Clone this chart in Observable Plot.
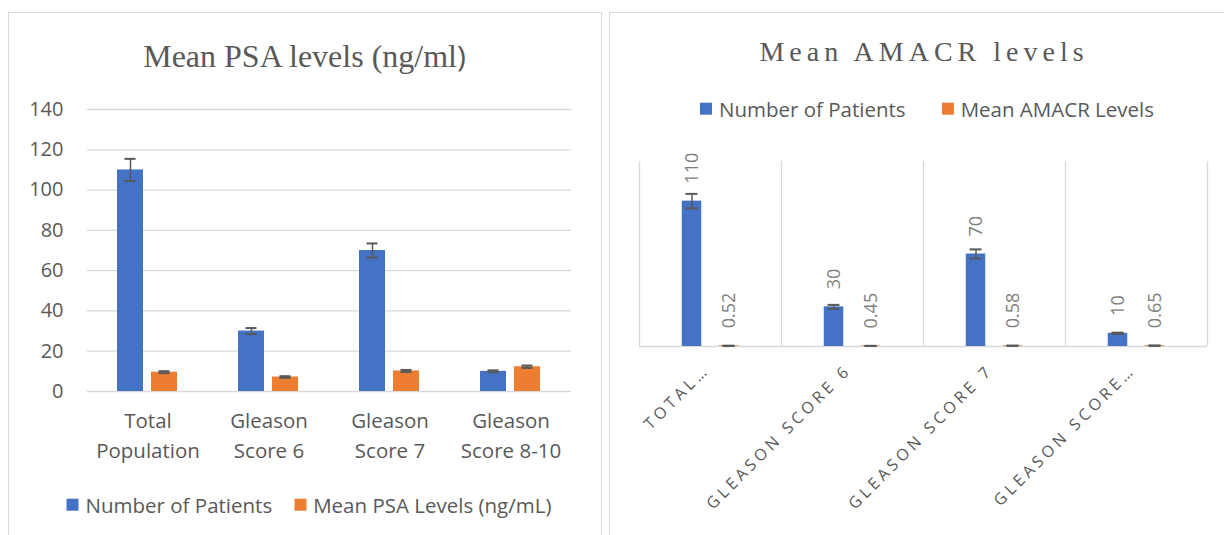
<!DOCTYPE html>
<html><head><meta charset="utf-8">
<script src="https://cdn.jsdelivr.net/npm/d3@7"></script>
<script src="https://cdn.jsdelivr.net/npm/@observablehq/plot@0.6"></script>
<style>
body{margin:0;width:1224px;height:535px;overflow:hidden;background:#fff;font-family:"Open Sans",sans-serif;color:#595959;position:relative}
.panel{position:absolute;border:1px solid #d9d9d9;box-sizing:border-box}
.title{position:absolute;font-family:"Liberation Serif",serif;color:#595959;text-align:center;white-space:nowrap;line-height:1}
.legend{position:absolute;display:flex;align-items:center;font-size:20.5px;white-space:nowrap;transform:translate(-50%,-50%);line-height:1.2}
.sw{width:12px;height:12px;display:inline-block;margin-right:7px}
.item{display:flex;align-items:center}
.wrap{position:absolute}
</style></head><body>
<div class="panel" style="left:8px;top:12px;width:594px;height:540px"></div>
<div class="panel" style="left:609px;top:12px;width:630px;height:540px"></div>
<div class="title" style="left:8px;width:593px;top:40px;font-size:32px">Mean PSA levels (ng/ml<span style="font-family:'Open Sans';font-size:30px">)</span></div>
<div class="title" style="left:619px;width:600px;top:38px;font-size:28px;letter-spacing:5px;padding-left:5px">Mean AMACR levels</div>
<div id="left" class="wrap" style="left:0;top:0;width:601px;height:470px"></div>
<div id="right" class="wrap" style="left:609px;top:0;width:615px;height:535px"></div>
<div id="lg1" class="legend" style="left:309px;top:505px"></div>
<div id="lg2" class="legend" style="left:927px;top:109px"></div>
<script>
// ---- data ----
const categories = ["Total Population", "Gleason Score 6", "Gleason Score 7", "Gleason Score 8-10"];
const leftCatLabels = ["Total\nPopulation", "Gleason\nScore 6", "Gleason\nScore 7", "Gleason\nScore 8-10"];
const rightCatLabels = ["TOTAL…", "GLEASON SCORE 6", "GLEASON SCORE 7", "GLEASON SCORE…"];
const patients = [110, 30, 70, 10];
const patientsErr = [5.5, 1.5, 3.5, 0.5];
const meanPSA = [9.6, 7.2, 10.2, 12.3];
const psaErr = [0.5, 0.4, 0.5, 0.6];
const meanAMACR = [0.52, 0.45, 0.58, 0.65];
const amacrErr = [0.03, 0.02, 0.03, 0.03];
const psaSeries = ["Number of Patients", "Mean PSA Levels (ng/mL)"];
const amacrSeries = ["Number of Patients", "Mean AMACR Levels"];
const yTicks = [0, 20, 40, 60, 80, 100, 120, 140];

const BLUE = "#4472C4", ORANGE = "#ED7D31", TXT = "#595959", GRID = "#d9d9d9", ERR = "#595959";

const mk = (vals, errs, series) => categories.map((c, i) => ({cat: c, series, value: vals[i], lo: vals[i] - errs[i], hi: vals[i] + errs[i], label: String(vals[i])}));
const psaRows = mk(patients, patientsErr, psaSeries[0]).concat(mk(meanPSA, psaErr, psaSeries[1]));
const patRows = mk(patients, patientsErr, amacrSeries[0]);
const amaRows = mk(meanAMACR, amacrErr, amacrSeries[1]);

// ---- left chart ----
const left = Plot.plot({
  width: 601, height: 470, marginLeft: 86, marginRight: 29, marginTop: 109, marginBottom: 79,
  style: {background: "transparent", fontFamily: "Open Sans", color: TXT, overflow: "visible"},
  fx: {domain: categories, padding: 0},
  x: {domain: psaSeries, paddingInner: 0.232, paddingOuter: 0.877, axis: null},
  y: {domain: [0, 140]},
  color: {domain: psaSeries, range: [BLUE, ORANGE]},
  marks: [
    Plot.gridY(yTicks, {stroke: GRID, strokeOpacity: 1, strokeWidth: 1.3}),
    Plot.axisY(yTicks, {tickSize: 0, tickPadding: 24, fontSize: 20, fill: TXT, label: null}),
    Plot.barY(psaRows, {fx: "cat", x: "series", y: "value", fill: "series"}),
    Plot.ruleX(psaRows, {fx: "cat", x: "series", y1: "lo", y2: "hi", stroke: ERR, strokeWidth: 1.5}),
    Plot.tickY(psaRows, {fx: "cat", x: "series", y: "hi", insetLeft: 7.5, insetRight: 7.5, stroke: ERR, strokeWidth: 2}),
    Plot.tickY(psaRows, {fx: "cat", x: "series", y: "lo", insetLeft: 7.5, insetRight: 7.5, stroke: ERR, strokeWidth: 2}),
    Plot.axisFx({anchor: "bottom", tickSize: 0, tickPadding: 15, fontSize: 20.5, lineHeight: 1.46, fill: TXT, label: null,
      tickFormat: c => leftCatLabels[categories.indexOf(c)]})
  ]
});
document.getElementById("left").appendChild(left);

// ---- right chart ----
const RW = 615, RL = 30, RR = 17;
const band = (RW - RL - RR) / categories.length;
const barW = 19.5, off = 18.5, capW = 12;
const right = Plot.plot({
  width: RW, height: 535, marginLeft: RL, marginRight: RR, marginTop: 161, marginBottom: 189,
  style: {background: "transparent", fontFamily: "Open Sans", color: TXT, overflow: "visible"},
  x: {domain: categories, padding: 0, axis: null},
  y: {domain: [0, 140], axis: null},
  marks: [
    Plot.ruleX(categories, {x: d => d, dx: -band / 2, stroke: GRID, strokeWidth: 1.3}),
    Plot.ruleX(categories.slice(-1), {x: d => d, dx: band / 2, stroke: GRID, strokeWidth: 1.3}),
    Plot.ruleY([0], {stroke: GRID, strokeWidth: 1.3}),
    Plot.barY(patRows, {x: "cat", y: "value", fill: BLUE, dx: -off, insetLeft: (band - barW) / 2, insetRight: (band - barW) / 2}),
    Plot.barY(amaRows, {x: "cat", y: "value", fill: ORANGE, dx: off, insetLeft: (band - barW) / 2, insetRight: (band - barW) / 2}),
    ...[[patRows, -off], [amaRows, off]].flatMap(([rows, dx]) => [
      Plot.ruleX(rows, {x: "cat", y1: "lo", y2: "hi", dx, stroke: ERR, strokeWidth: 1.5}),
      Plot.tickY(rows, {x: "cat", y: "hi", dx, insetLeft: (band - capW) / 2, insetRight: (band - capW) / 2, stroke: ERR, strokeWidth: 2}),
      Plot.tickY(rows, {x: "cat", y: "lo", dx, insetLeft: (band - capW) / 2, insetRight: (band - capW) / 2, stroke: ERR, strokeWidth: 2}),
      Plot.text(rows, {x: "cat", y: "value", text: "label", dx, dy: -17.5, rotate: -90, textAnchor: "start", lineAnchor: "middle", fontSize: 18, fill: "#7f7f7f"})
    ]),
    Plot.text(categories, {x: d => d, frameAnchor: "bottom", text: (d, i) => rightCatLabels[i], rotate: -45, textAnchor: "end", lineAnchor: "middle", dx: -4, dy: 21, fontSize: 16, fill: TXT})
  ]
});
document.getElementById("right").appendChild(right);
d3.select(right).selectAll("text").filter(function() { return rightCatLabels.includes(this.textContent); })
  .attr("letter-spacing", "3.8px");

// ---- legends ----
function legend(id, names, colors, gap) {
  const el = document.getElementById(id);
  names.forEach((n, i) => {
    const it = document.createElement("span");
    it.className = "item";
    if (i > 0) it.style.marginLeft = gap + "px";
    const sw = document.createElement("span");
    sw.className = "sw"; sw.style.background = colors[i];
    it.appendChild(sw);
    it.appendChild(document.createTextNode(n));
    el.appendChild(it);
  });
}
legend("lg1", psaSeries, [BLUE, ORANGE], 22);
legend("lg2", amacrSeries, [BLUE, ORANGE], 36);
</script>
</body></html>
